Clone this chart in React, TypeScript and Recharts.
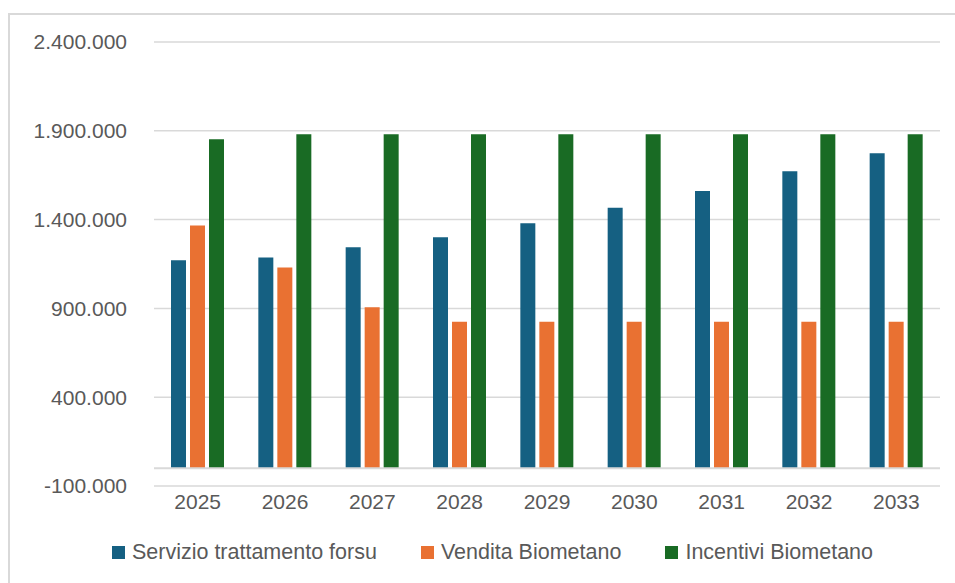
import React from 'react';
import { BarChart, Bar, XAxis, YAxis, CartesianGrid, Legend, ReferenceLine } from 'recharts';

const years = ['2025', '2026', '2027', '2028', '2029', '2030', '2031', '2032', '2033'];
const servizio = [1171000, 1186000, 1245000, 1301000, 1380000, 1467000, 1561000, 1672000, 1774000];
const vendita = [1367000, 1130000, 907000, 825000, 825000, 825000, 825000, 825000, 825000];
const incentivi = [1853000, 1881000, 1881000, 1881000, 1881000, 1881000, 1881000, 1881000, 1881000];
const yTicks = [-100000, 400000, 900000, 1400000, 1900000, 2400000];

const series = [
  { key: 'servizio', name: 'Servizio trattamento forsu', color: '#156082' },
  { key: 'vendita', name: 'Vendita Biometano', color: '#E97132' },
  { key: 'incentivi', name: 'Incentivi Biometano', color: '#196B24' },
];

const data = years.map((year, i) => ({
  year,
  servizio: servizio[i],
  vendita: vendita[i],
  incentivi: incentivi[i],
}));

const FONT = '"Liberation Sans", Arial, sans-serif';
const TEXT = '#595959';
const GRID = '#d9d9d9';

// 2400000 -> "2.400.000"
const fmt = (v: number) => {
  const s = String(Math.abs(v)).replace(/\B(?=(\d{3})+(?!\d))/g, '.');
  return v < 0 ? '-' + s : s;
};

const LegendContent = () => (
  <div
    style={{
      display: 'flex',
      justifyContent: 'center',
      alignItems: 'center',
      height: 30,
      paddingLeft: 20,
      fontFamily: FONT,
      fontSize: 21.5,
      color: TEXT,
    }}
  >
    {series.map((s, i) => (
      <div key={s.key} style={{ display: 'flex', alignItems: 'center', marginLeft: i ? 44 : 0 }}>
        <span style={{ width: 13, height: 13, background: s.color, marginRight: 7, display: 'inline-block' }} />
        <span>{s.name}</span>
      </div>
    ))}
  </div>
);

export default function App() {
  return (
    // frame is pinned so it runs to the right edge and bottom of the window
    <div
      style={{
        position: 'fixed',
        left: 8,
        top: 13,
        width: 945,
        height: 570,
        borderTop: `2px solid ${GRID}`,
        borderLeft: `2px solid ${GRID}`,
        background: '#fff',
        overflow: 'hidden',
      }}
    >
      <BarChart
        width={945}
        height={560}
        data={data}
        margin={{ top: 27, right: 15, bottom: 8, left: 0 }}
        barSize={15}
        barGap={4}
      >
        <CartesianGrid vertical={false} stroke={GRID} strokeWidth={1.5} />
        <XAxis
          dataKey="year"
          axisLine={false}
          tickLine={false}
          height={51}
          tick={{ fill: TEXT, fontSize: 21, fontFamily: FONT }}
        />
        <YAxis
          domain={[-100000, 2400000]}
          ticks={yTicks}
          tickFormatter={fmt}
          axisLine={false}
          tickLine={false}
          tickSize={0}
          tickMargin={27}
          width={144}
          tick={{ fill: TEXT, fontSize: 21, fontFamily: FONT }}
        />
        <ReferenceLine y={0} stroke={GRID} strokeWidth={2} />
        <Legend verticalAlign="bottom" content={<LegendContent />} wrapperStyle={{ left: 0, width: 945 }} />
        {series.map((s) => (
          <Bar key={s.key} dataKey={s.key} name={s.name} fill={s.color} isAnimationActive={false} />
        ))}
      </BarChart>
    </div>
  );
}
